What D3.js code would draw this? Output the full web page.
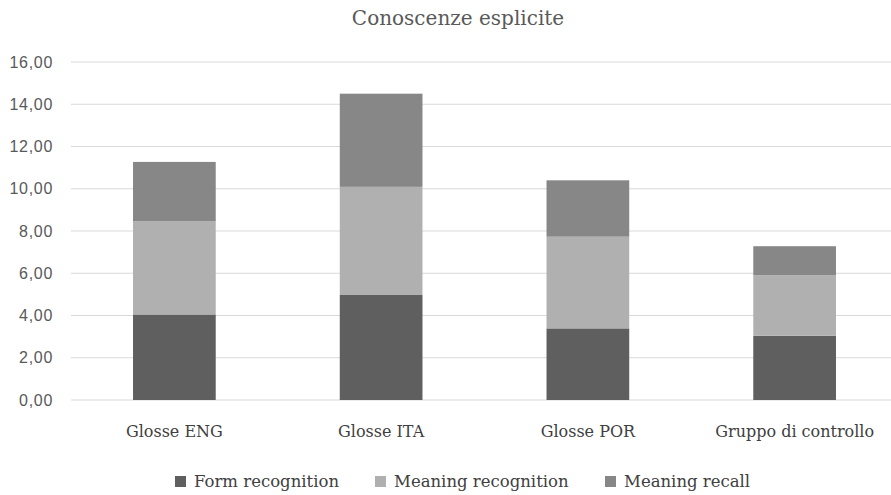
<!DOCTYPE html>
<html>
<head>
<meta charset="utf-8">
<script src="https://cdn.jsdelivr.net/npm/d3@7"></script>
<style>
  body { margin: 0; background: #fff; }
  svg { display: block; }
</style>
</head>
<body>
<div id="chart"></div>
<script>
// dati
const categories = ["Glosse ENG", "Glosse ITA", "Glosse POR", "Gruppo di controllo"];
const seriesNames = ["Form recognition", "Meaning recognition", "Meaning recall"];
const formRecognition = [4.05, 4.97, 3.39, 3.04];
const meaningRecognition = [4.42, 5.12, 4.34, 2.87];
const meaningRecall = [2.80, 4.41, 2.67, 1.37];
const yTicks = [0, 2, 4, 6, 8, 10, 12, 14, 16];

const colors = ["#5f5f5f", "#b0b0b0", "#878787"];

const W = 891, H = 495;
const margin = { top: 62, right: -7, bottom: 95, left: 71 };
const width = W - margin.left - margin.right;
const height = H - margin.top - margin.bottom;

const rows = categories.map((c, i) => ({
    cat: c,
    "Form recognition": formRecognition[i],
    "Meaning recognition": meaningRecognition[i],
    "Meaning recall": meaningRecall[i]
}));

const stack = d3.stack().keys(seriesNames)(rows);

const svg = d3.select("#chart").append("svg")
    .attr("width", W)
    .attr("height", H);

const g = svg.append("g")
    .attr("transform", `translate(${margin.left},${margin.top})`);

const x = d3.scaleBand()
    .domain(categories)
    .range([0, width])
    .paddingInner(0.6)
    .paddingOuter(0.3);

const y = d3.scaleLinear()
    .domain([0, 16])
    .range([height, 0]);

// griglia
g.append("g")
    .selectAll("line")
    .data(yTicks)
    .join("line")
    .attr("x1", 0)
    .attr("x2", width)
    .attr("y1", d => y(d))
    .attr("y2", d => y(d))
    .attr("stroke", "#d9d9d9")
    .attr("stroke-width", 1);

// asse y
const yAxis = g.append("g")
    .call(d3.axisLeft(y).tickValues(yTicks).tickSize(0).tickPadding(18)
        .tickFormat(d => d3.format(".2f")(d).replace(".", ",")));
yAxis.select(".domain").remove();
yAxis.selectAll("text")
    .attr("fill", "#595959")
    .style("font-family", "'Liberation Sans', Arial, sans-serif")
    .style("font-size", "16px")
    .style("letter-spacing", "0.7px");

// barre
g.selectAll(".serie")
    .data(stack)
    .join("g")
    .attr("class", "serie")
    .attr("fill", (d, i) => colors[i])
    .selectAll("rect")
    .data(d => d)
    .join("rect")
    .attr("x", d => x(d.data.cat))
    .attr("width", x.bandwidth())
    .attr("y", d => y(d[1]))
    .attr("height", d => y(d[0]) - y(d[1]));

// asse x
const xAxis = g.append("g")
    .attr("transform", `translate(0,${height})`)
    .call(d3.axisBottom(x).tickSize(0).tickPadding(26));
xAxis.select(".domain").remove();
xAxis.selectAll("text")
    .attr("fill", "#404040")
    .style("font-family", "'DejaVu Serif', serif")
    .style("font-size", "16px");

// titolo
svg.append("text")
    .attr("x", 458)
    .attr("y", 25)
    .attr("text-anchor", "middle")
    .attr("fill", "#595959")
    .style("font-family", "'DejaVu Serif', serif")
    .style("font-size", "20px")
    .text("Conoscenze esplicite");

// legenda
const legendX = [175, 375, 605];
const legend = svg.append("g")
    .selectAll("g")
    .data(seriesNames)
    .join("g")
    .attr("transform", (d, i) => `translate(${legendX[i]},476)`);
legend.append("rect")
    .attr("width", 11)
    .attr("height", 11)
    .attr("fill", (d, i) => colors[i]);
legend.append("text")
    .attr("x", 19)
    .attr("y", 11)
    .attr("fill", "#404040")
    .style("font-family", "'DejaVu Serif', serif")
    .style("font-size", "16.5px")
    .text(d => d);
</script>
</body>
</html>
